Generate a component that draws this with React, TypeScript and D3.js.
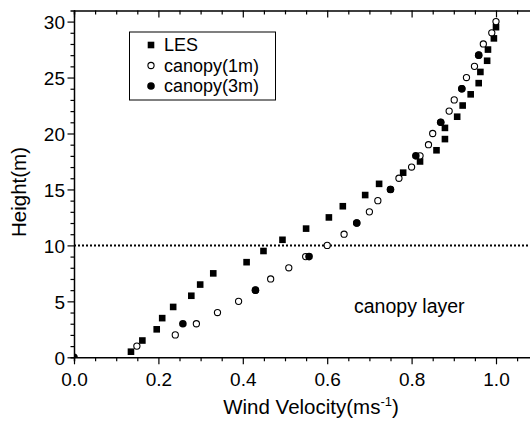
import { useEffect, useRef } from "react";
import * as d3 from "d3";

// LES profile: heights 0.5 .. 29.5
const lesHeight = [
  0.5, 1.5, 2.5, 3.5, 4.5, 5.5, 6.5, 7.5, 8.5, 9.5, 10.5, 11.5, 12.5, 13.5, 14.5,
  15.5, 16.5, 17.5, 18.5, 19.5, 20.5, 21.5, 22.5, 23.5, 24.5, 25.5, 26.5, 27.5, 28.5, 29.5,
];
const lesVelocity = [
  0.135, 0.162, 0.196, 0.209, 0.235, 0.278, 0.299, 0.33, 0.409, 0.449, 0.494, 0.55, 0.604, 0.637, 0.69,
  0.723, 0.78, 0.82, 0.859, 0.879, 0.879, 0.908, 0.921, 0.94, 0.959, 0.963, 0.979, 0.981, 0.995, 1.0,
];

// canopy model, 1 m resolution
const c1Height = [
  1, 2, 3, 4, 5, 6, 7, 8, 9, 10, 11, 12, 13, 14, 15,
  16, 17, 18, 19, 20, 21, 22, 23, 24, 25, 26, 27, 28, 29, 30,
];
const c1Velocity = [
  0.149, 0.24, 0.29, 0.34, 0.39, 0.43, 0.466, 0.509, 0.549, 0.6, 0.64, 0.67, 0.7, 0.72, 0.75,
  0.77, 0.8, 0.82, 0.84, 0.85, 0.869, 0.889, 0.901, 0.919, 0.93, 0.949, 0.959, 0.97, 0.99, 1.0,
];

// canopy model, 3 m resolution
const c3Height = [0, 3, 6, 9, 12, 15, 18, 21, 24, 27];
const c3Velocity = [0, 0.258, 0.43, 0.557, 0.67, 0.75, 0.81, 0.869, 0.919, 0.959];

const legendLabels = ["LES", "canopy(1m)", "canopy(3m)"];
const xTickLabels = [0, 0.2, 0.4, 0.6, 0.8, 1.0];
const yTickLabels = [0, 5, 10, 15, 20, 25, 30];

const FONT = "'Liberation Sans', Arial, Helvetica, sans-serif";

const isMajorX = (d: number) => xTickLabels.some(v => Math.abs(v - d) < 1e-6) || Math.abs(d * 5 - Math.round(d * 5)) < 1e-6;

export default function App() {
  const svgRef = useRef<SVGSVGElement | null>(null);

  useEffect(() => {
    if (!svgRef.current) return;
    const svg = d3.select(svgRef.current);
    svg.selectAll("*").remove();

    const x = d3.scaleLinear().domain([0, 1.1]).range([74, 538.2]);
    const y = d3.scaleLinear().domain([0, 31]).range([357.3, 10.4]);
    const [x0, x1] = x.range();
    const [y0, y1] = y.range();

    svg.append("defs")
      .append("clipPath")
      .attr("id", "plot-clip")
      .append("rect")
      .attr("x", x0)
      .attr("y", y1)
      .attr("width", x1 - x0)
      .attr("height", y0 - y1);

    // canopy top (10 m) dotted line
    svg.append("line")
      .attr("x1", x0).attr("x2", x1)
      .attr("y1", y(10)).attr("y2", y(10))
      .attr("stroke", "#000")
      .attr("stroke-width", 2)
      .attr("stroke-dasharray", "2,2");

    const plot = svg.append("g").attr("clip-path", "url(#plot-clip)");

    // LES squares
    const s = 6.6;
    plot.selectAll("rect.les")
      .data(lesHeight)
      .enter()
      .append("rect")
      .attr("class", "les")
      .attr("x", (_, i) => x(lesVelocity[i]) - s / 2)
      .attr("y", d => y(d) - s / 2)
      .attr("width", s)
      .attr("height", s)
      .attr("fill", "#000");

    // canopy(1m) open circles
    plot.selectAll("circle.c1")
      .data(c1Height)
      .enter()
      .append("circle")
      .attr("class", "c1")
      .attr("cx", (_, i) => x(c1Velocity[i]))
      .attr("cy", d => y(d))
      .attr("r", 3.1)
      .attr("fill", "#fff")
      .attr("stroke", "#000")
      .attr("stroke-width", 1.1);

    // canopy(3m) filled circles
    plot.selectAll("circle.c3")
      .data(c3Height)
      .enter()
      .append("circle")
      .attr("class", "c3")
      .attr("cx", (_, i) => x(c3Velocity[i]))
      .attr("cy", d => y(d))
      .attr("r", 3.8)
      .attr("fill", "#000");

    // Axes
    const axisG = svg.append("g").attr("font-family", FONT);
    const xTicks = d3.range(0, 1.1001, 0.05);

    const xBottom = axisG.append("g")
      .attr("transform", `translate(0,${y0})`)
      .call(d3.axisBottom(x).tickValues(xTicks).tickSize(4).tickFormat(() => ""));
    xBottom.selectAll(".tick line")
      .filter((d: any) => isMajorX(d))
      .attr("y2", 7);
    xBottom.selectAll(".tick")
      .filter((d: any) => xTickLabels.some(v => Math.abs(v - d) < 1e-6))
      .append("text")
      .attr("y", 29)
      .attr("fill", "#000")
      .attr("font-size", 19)
      .attr("text-anchor", "middle")
      .text((d: any) => d3.format(".1f")(d));

    // mirrored top axis, ticks pointing inward
    const xTop = axisG.append("g")
      .attr("transform", `translate(0,${y1})`)
      .call(d3.axisBottom(x).tickValues(xTicks).tickSize(4).tickFormat(() => ""));
    xTop.selectAll(".tick line")
      .filter((d: any) => isMajorX(d))
      .attr("y2", 7);

    const yLeft = axisG.append("g")
      .attr("transform", `translate(${x0},0)`)
      .call(d3.axisLeft(y).tickValues(d3.range(0, 31, 1)).tickSize(3.5).tickFormat(() => ""));
    yLeft.selectAll(".tick line")
      .filter((d: any) => d % 5 === 0)
      .attr("x2", -6.5);
    yLeft.selectAll(".tick")
      .filter((d: any) => yTickLabels.includes(d))
      .append("text")
      .attr("x", -9)
      .attr("dy", "0.36em")
      .attr("fill", "#000")
      .attr("font-size", 19)
      .attr("text-anchor", "end")
      .text((d: any) => String(d));

    axisG.selectAll(".domain").attr("stroke-width", 1.5).attr("stroke", "#000");
    axisG.selectAll(".tick line").attr("stroke-width", 1.2).attr("stroke", "#000");

    // Axis titles
    const xTitle = svg.append("text")
      .attr("x", 311)
      .attr("y", 414)
      .attr("text-anchor", "middle")
      .attr("font-family", FONT)
      .attr("font-size", 20.5)
      .attr("fill", "#000");
    xTitle.append("tspan").text("Wind Velocity(ms");
    xTitle.append("tspan").attr("dy", -8).attr("font-size", 13).text("-1");
    xTitle.append("tspan").attr("dy", 8).text(")");

    svg.append("text")
      .attr("transform", "translate(26,192) rotate(-90)")
      .attr("text-anchor", "middle")
      .attr("font-family", FONT)
      .attr("font-size", 20.5)
      .attr("fill", "#000")
      .text("Height(m)");

    svg.append("text")
      .attr("x", 354)
      .attr("y", 313)
      .attr("font-family", FONT)
      .attr("font-size", 19.5)
      .attr("fill", "#000")
      .text("canopy layer");

    // Legend
    const legend = svg.append("g").attr("font-family", FONT);
    legend.append("rect")
      .attr("x", 129.5).attr("y", 32)
      .attr("width", 146).attr("height", 68)
      .attr("fill", "#fff")
      .attr("stroke", "#000")
      .attr("stroke-width", 1);
    const rowY = [45, 65.5, 86];
    legendLabels.forEach((label, i) => {
      const cy = rowY[i];
      if (i === 0) {
        legend.append("rect").attr("x", 151 - s / 2).attr("y", cy - s / 2).attr("width", s).attr("height", s).attr("fill", "#000");
      } else if (i === 1) {
        legend.append("circle").attr("cx", 151).attr("cy", cy).attr("r", 3.1).attr("fill", "#fff").attr("stroke", "#000").attr("stroke-width", 1.1);
      } else {
        legend.append("circle").attr("cx", 151).attr("cy", cy).attr("r", 3.8).attr("fill", "#000");
      }
      legend.append("text")
        .attr("x", 164)
        .attr("y", cy)
        .attr("dy", "0.36em")
        .attr("font-size", 18)
        .attr("fill", "#000")
        .text(label);
    });
  }, []);

  return (
    <svg
      ref={svgRef}
      width={530}
      height={423}
      style={{ position: "absolute", left: 0, top: 0, background: "#fff" }}
    />
  );
}
